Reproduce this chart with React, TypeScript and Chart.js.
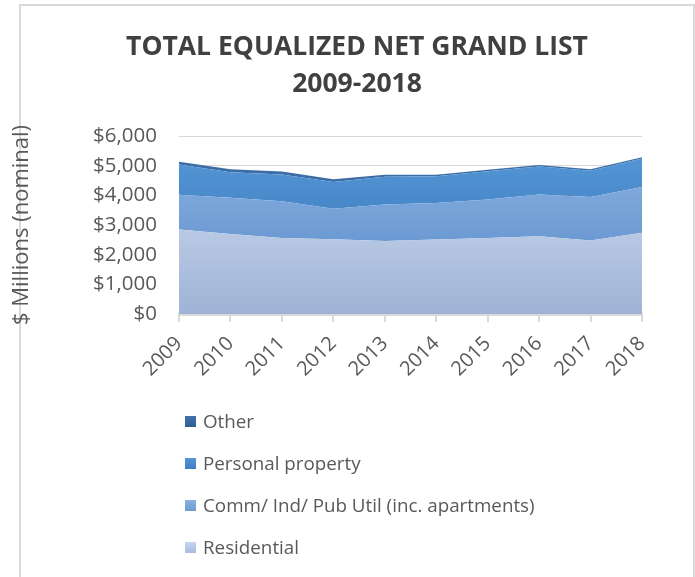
import React, { useEffect, useRef } from "react";
import { Chart, registerables } from "chart.js";

Chart.register(...registerables);

const years = ["2009", "2010", "2011", "2012", "2013", "2014", "2015", "2016", "2017", "2018"];
const residential = [2850, 2700, 2560, 2520, 2460, 2510, 2560, 2620, 2480, 2740];
const commInd = [1170, 1220, 1240, 1030, 1230, 1230, 1300, 1410, 1460, 1540];
const personalProperty = [1020, 860, 900, 900, 940, 900, 950, 940, 890, 960];
const other = [90, 100, 100, 90, 60, 50, 50, 50, 50, 40];
const yTicks = [0, 1000, 2000, 3000, 4000, 5000, 6000];

const seriesNames = ["Residential", "Comm/ Ind/ Pub Util (inc. apartments)", "Personal property", "Other"];

const FONT = "'Open Sans', sans-serif";
const TEXT = "#595959";

function grad(chart: any, top: string, bottom: string, solid: string) {
  const a = chart.chartArea;
  if (!a) return solid;
  const g = chart.ctx.createLinearGradient(0, a.top, 0, a.bottom);
  g.addColorStop(0, top);
  g.addColorStop(1, bottom);
  return g;
}

export default function App() {
  const ref = useRef<HTMLCanvasElement>(null);

  useEffect(() => {
    if (!ref.current) return;
    const chart = new Chart(ref.current, {
      type: "line",
      data: {
        labels: years,
        datasets: [
          {
            label: seriesNames[0],
            data: residential,
            fill: "origin",
            borderWidth: 0,
            pointRadius: 0,
            backgroundColor: (c: any) => grad(c.chart, "#D6E2F5", "#9FB3D6", "#B4C7E7"),
            tension: 0,
          },
          {
            label: seriesNames[1],
            data: commInd,
            fill: "-1",
            borderWidth: 0,
            pointRadius: 0,
            backgroundColor: (c: any) => grad(c.chart, "#93B8E6", "#4F84C4", "#7EA6DB"),
            tension: 0,
          },
          {
            label: seriesNames[2],
            data: personalProperty,
            fill: "-1",
            borderWidth: 0,
            pointRadius: 0,
            backgroundColor: (c: any) => grad(c.chart, "#599BDB", "#2F6CB0", "#4A88CB"),
            tension: 0,
          },
          {
            label: seriesNames[3],
            data: other,
            fill: "-1",
            borderWidth: 0,
            pointRadius: 0,
            backgroundColor: "#3B6DA6",
            tension: 0,
          },
        ],
      },
      options: {
        animation: false,
        responsive: false,
        maintainAspectRatio: false,
        layout: { padding: { top: 136, right: 53, bottom: 0, left: 0 } },
        plugins: {
          legend: { display: false },
          title: { display: false },
          tooltip: { enabled: false },
        },
        scales: {
          x: {
            offset: false,
            grid: {
              display: true,
              drawOnChartArea: false,
              drawTicks: true,
              tickLength: 8,
              color: "#D9D9D9",
              lineWidth: 2,
            },
            border: { display: true, color: "#D9D9D9", width: 3 },
            ticks: {
              color: TEXT,
              font: { family: FONT, size: 20 },
              minRotation: 45,
              maxRotation: 45,
              padding: 10,
              autoSkip: false,
            },
            afterFit: (s: any) => {
              s.height = 577 - 314;
            },
          },
          y: {
            stacked: true,
            min: 0,
            max: 6000,
            afterBuildTicks: (s: any) => {
              s.ticks = yTicks.map((v) => ({ value: v }));
            },
            grid: { color: "#D9D9D9", lineWidth: 1, drawTicks: false },
            border: { display: false },
            ticks: {
              color: TEXT,
              font: { family: FONT, size: 20.5 },
              padding: 22,
              callback: (v: any) => "$" + Number(v).toLocaleString("en-US"),
            },
            title: {
              display: true,
              text: "$ Millions (nominal)",
              color: TEXT,
              font: { family: FONT, size: 22 },
              padding: { top: 9, bottom: 0 },
            },
            afterFit: (s: any) => {
              s.width = 179;
            },
          },
        },
      },
    });
    return () => chart.destroy();
  }, []);

  const legendItems = [
    { name: seriesNames[3], color: "linear-gradient(#3F73AE, #2F5E96)" },
    { name: seriesNames[2], color: "linear-gradient(#5596D6, #3F7DC0)" },
    { name: seriesNames[1], color: "linear-gradient(#8AB1E3, #6E9AD2)" },
    { name: seriesNames[0], color: "linear-gradient(#C6D6F0, #A7BBDC)" },
  ];

  return (
    <div style={{ position: "absolute", left: 0, top: 0, width: 695, height: 577, background: "#fff", overflow: "hidden" }}>
      <div
        style={{
          position: "absolute",
          left: 19,
          top: 4,
          width: 672,
          height: 600,
          border: "2px solid #D9D9D9",
        }}
      />
      <canvas ref={ref} width={695} height={577} style={{ position: "absolute", left: 0, top: 0 }} />
      <div
        style={{
          position: "absolute",
          left: 21,
          width: 672,
          top: 27,
          textAlign: "center",
          fontFamily: FONT,
          fontWeight: 700,
          fontSize: 26.5,
          lineHeight: "37px",
          color: "#404040",
        }}
      >
        <div>TOTAL EQUALIZED NET GRAND LIST</div>
        <div>2009-2018</div>
      </div>
      {legendItems.map((it, i) => (
        <div
          key={it.name}
          style={{
            position: "absolute",
            left: 185,
            top: 421 + i * 42 - 13,
            height: 26,
            display: "flex",
            alignItems: "center",
            fontFamily: FONT,
            fontSize: 18.8,
            color: TEXT,
            whiteSpace: "nowrap",
          }}
        >
          <span style={{ display: "inline-block", width: 11, height: 11, background: it.color, marginRight: 7 }} />
          <span>{it.name}</span>
        </div>
      ))}
    </div>
  );
}
